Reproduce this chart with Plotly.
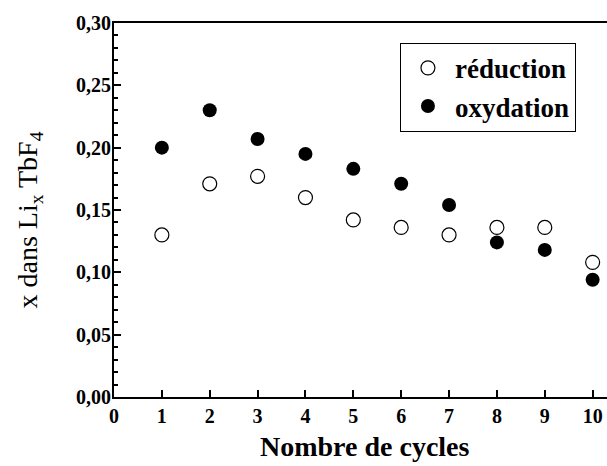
import plotly.graph_objects as go

cycles = [1, 2, 3, 4, 5, 6, 7, 8, 9, 10]
reduction = [0.130, 0.171, 0.177, 0.160, 0.142, 0.136, 0.130, 0.136, 0.136, 0.108]
oxydation = [0.200, 0.230, 0.207, 0.195, 0.183, 0.171, 0.154, 0.124, 0.118, 0.094]
x_ticks = [0, 1, 2, 3, 4, 5, 6, 7, 8, 9, 10]
y_ticks = [0.00, 0.05, 0.10, 0.15, 0.20, 0.25, 0.30]

SERIF = "Liberation Serif, Times New Roman, serif"

fig = go.Figure()
fig.add_trace(go.Scatter(
    x=cycles, y=reduction, mode="markers", name="<b>réduction</b>",
    marker=dict(symbol="circle-open", size=14, color="black", line=dict(width=1.2, color="black")),
))
fig.add_trace(go.Scatter(
    x=cycles, y=oxydation, mode="markers", name="<b>oxydation</b>",
    marker=dict(symbol="circle", size=14, color="black"),
))

fig.update_layout(
    width=607, height=466,
    margin=dict(l=114, r=0, t=23, b=69),
    paper_bgcolor="white", plot_bgcolor="white",
    separators=", ",
    font=dict(family=SERIF, color="black"),
    showlegend=True,
    legend=dict(
        x=0.580, y=0.947, xanchor="left", yanchor="top",
        bordercolor="black", borderwidth=1, bgcolor="white",
        font=dict(family=SERIF, size=27, color="black"),
        tracegroupgap=0, itemsizing="trace", itemwidth=44,
    ),
    xaxis=dict(
        range=[0, 10.3], tickmode="array", tickvals=x_ticks,
        ticktext=[f"<b>{v}</b>" for v in x_ticks],
        ticks="inside", ticklen=7, tickwidth=1.5, tickcolor="black",
        showline=True, linewidth=2, linecolor="black", mirror=True,
        showgrid=False, zeroline=False,
        tickfont=dict(family=SERIF, size=20, color="black"),
        ticklabelstandoff=0,
    ),
    yaxis=dict(
        range=[0, 0.30], tickmode="array", tickvals=y_ticks,
        ticktext=[f"<b>{v:.2f}</b>".replace(".", ",") for v in y_ticks],
        ticks="inside", ticklen=7, tickwidth=1.5, tickcolor="black",
        minor=dict(dtick=0.01, ticks="inside", ticklen=4, tickwidth=1.5, tickcolor="black", showgrid=False),
        showline=True, linewidth=2, linecolor="black", mirror=False,
        showgrid=False, zeroline=False,
        tickfont=dict(family=SERIF, size=20, color="black"),
        ticklabelstandoff=-3,
    ),
)

fig.add_annotation(
    text="<b>Nombre de cycles</b>", xref="paper", yref="paper",
    x=0.510, y=-0.132, xanchor="center", yanchor="middle", showarrow=False,
    font=dict(family=SERIF, size=28, color="black"),
)
fig.add_annotation(
    text="x dans Li<sub>x</sub> TbF<sub>4</sub>", xref="paper", yref="paper",
    x=-0.172, y=0.4725, xanchor="center", yanchor="middle", showarrow=False,
    textangle=-90,
    font=dict(family=SERIF, size=28, color="black"),
)

fig.write_html(
    "out.html",
    config={"displayModeBar": False},
    post_script="document.body.style.margin='0';document.body.style.overflow='hidden';",
)
